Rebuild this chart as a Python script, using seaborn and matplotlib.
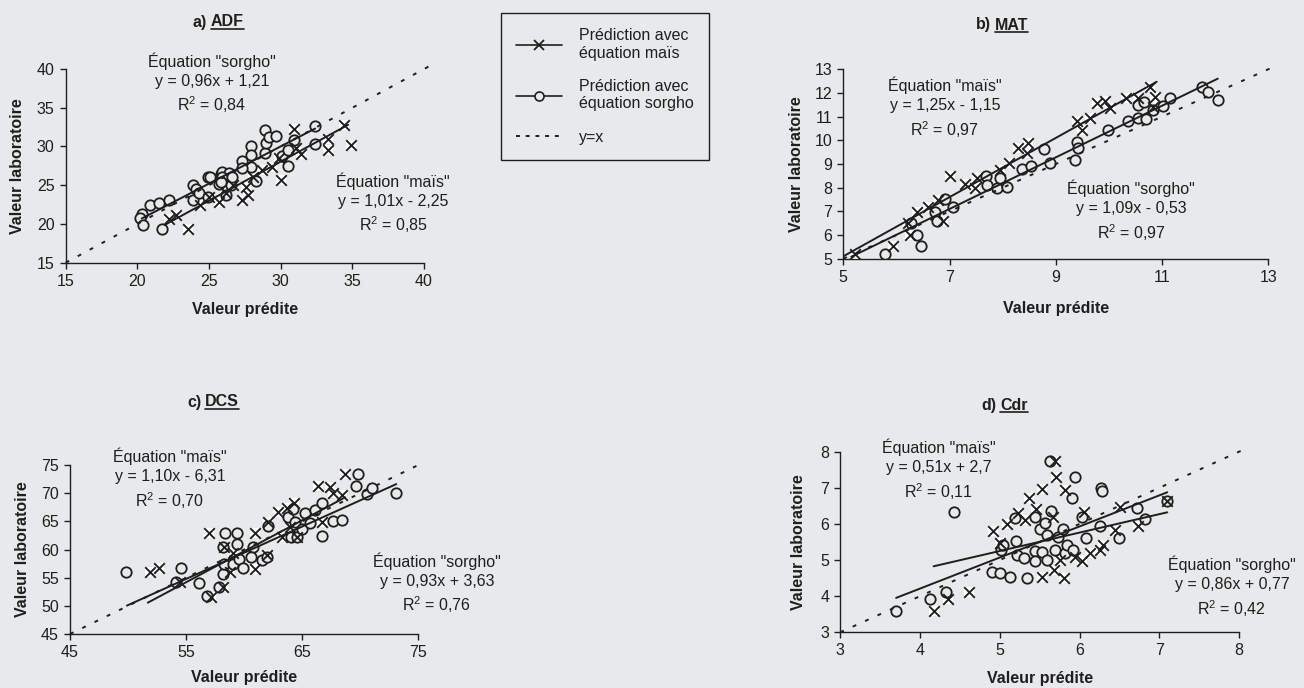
import matplotlib
matplotlib.use('Agg')
import numpy as np
import pandas as pd
import matplotlib.pyplot as plt
import seaborn as sns
from matplotlib.lines import Line2D

BG = '#e8e9ea'
INK = '#1e1e1e'

# a) ADF
adf_mais_x = [22.2, 22.7, 23.5, 24.4, 25.7, 26.2, 27.3, 27.7, 27.6, 28.1, 29.4, 30.0, 30.9,
              31.4, 31.1, 33.3, 33.3, 34.4, 34.9, 26.7, 25.0, 28.7, 29.9]
adf_mais_y = [20.7, 21.2, 19.4, 22.4, 22.8, 24.0, 23.1, 23.8, 24.8, 26.1, 27.4, 25.7, 32.2,
              29.0, 29.8, 31.0, 29.6, 32.8, 30.2, 25.0, 23.5, 27.0, 28.5]
adf_sorgho_x = [20.3, 20.2, 20.4, 20.9, 21.5, 22.2, 21.7, 23.9, 24.1, 23.9, 24.3, 24.9, 25.1,
                24.9, 25.7, 25.8, 25.9, 26.4, 26.2, 26.5, 25.9, 27.3, 27.9, 27.9, 27.9, 28.3,
                28.9, 28.9, 29.0, 29.2, 29.7, 30.1, 30.5, 30.5, 30.9, 32.4, 32.4, 27.3, 25.8, 26.6]
adf_sorgho_y = [21.3, 20.8, 19.8, 22.5, 22.7, 23.1, 19.3, 25.0, 24.5, 23.1, 24.0, 26.1, 26.0,
                23.5, 25.1, 26.5, 26.7, 26.6, 23.7, 25.0, 26.1, 28.1, 30.0, 28.9, 27.4, 25.6,
                32.1, 29.1, 30.4, 31.2, 31.3, 28.8, 29.6, 27.5, 30.8, 32.7, 30.3, 27.2, 25.4, 26.0]
adf_eq_mais = [1.01, -2.25]
adf_eq_sorgho = [0.96, 1.21]
adf_fit_mais = [21.9, 34.7]
adf_fit_sorgho = [20.3, 32.4]

# b) MAT
mat_mais_x = [5.22, 5.94, 6.22, 6.25, 6.38, 6.6, 6.79, 6.88, 7.0, 7.29, 7.51, 7.48, 7.95, 8.11,
              8.29, 8.48, 8.45, 9.39, 9.49, 9.64, 9.77, 9.92, 10.02, 10.33, 10.55, 10.77, 10.87, 10.83]
mat_mais_y = [5.2, 5.54, 6.52, 6.0, 6.97, 7.17, 7.48, 6.59, 8.5, 8.15, 8.39, 7.97, 8.75, 9.03,
              9.69, 9.9, 9.45, 10.82, 10.44, 10.93, 11.56, 11.68, 11.35, 11.77, 11.77, 12.24, 11.85, 11.42]
mat_sorgho_x = [5.78, 6.27, 6.38, 6.47, 6.73, 6.76, 6.91, 7.07, 7.68, 7.7, 7.89, 7.95, 8.09, 8.36,
                8.53, 8.78, 8.89, 9.37, 9.4, 9.41, 9.99, 10.36, 10.55, 10.55, 10.66, 10.69, 10.83,
                11.02, 11.15, 11.76, 11.86, 12.06]
mat_sorgho_y = [5.18, 6.52, 6.0, 5.54, 6.99, 6.61, 7.52, 7.17, 8.5, 8.11, 8.0, 8.42, 8.04, 8.77,
                8.93, 9.65, 9.03, 9.15, 9.93, 9.66, 10.44, 10.83, 10.93, 11.48, 11.6, 10.9, 11.28,
                11.45, 11.77, 12.27, 12.06, 11.7]
mat_eq_mais = [1.25, -1.15]
mat_eq_sorgho = [1.09, -0.53]
mat_fit_mais = [5.0, 10.9]
mat_fit_sorgho = [5.15, 12.05]

# c) DCS
dcs_mais_x = [51.89, 52.69, 54.47, 57.0, 57.12, 58.2, 58.26, 58.78, 59.07, 60.93, 60.93, 61.94,
              62.08, 62.94, 63.23, 63.66, 64.32, 64.52, 63.95, 66.39, 67.39, 67.68, 68.4, 68.69, 66.68]
dcs_mais_y = [55.95, 56.78, 54.29, 62.87, 51.63, 53.4, 60.5, 56.07, 59.32, 62.87, 56.54, 59.0,
              64.94, 66.72, 62.28, 67.31, 68.31, 62.28, 64.05, 71.27, 71.15, 70.09, 69.67, 73.4, 64.94]
dcs_sorgho_x = [49.79, 54.16, 54.56, 56.11, 56.83, 57.86, 58.15, 58.26, 58.2, 58.35, 59.36, 59.36,
                59.01, 59.58, 59.87, 60.73, 60.56, 61.51, 61.94, 62.08, 63.81, 64.24, 64.04, 64.52,
                64.38, 64.95, 65.24, 65.67, 66.1, 66.73, 66.68, 67.68, 68.4, 69.63, 69.78, 70.55,
                71.04, 73.08]
dcs_sorgho_y = [56.07, 54.29, 56.78, 54.0, 51.75, 53.4, 55.65, 57.37, 60.5, 62.99, 62.99, 60.98,
                57.37, 58.31, 56.66, 60.5, 58.73, 58.14, 58.73, 64.17, 65.71, 67.13, 62.28, 62.16,
                64.94, 63.64, 66.54, 64.64, 67.01, 68.2, 62.46, 65.12, 65.24, 71.27, 73.4, 69.85,
                70.86, 69.97]
dcs_eq_mais = [1.10, -6.31]
dcs_eq_sorgho = [0.93, 3.63]
dcs_fit_mais = [51.7, 68.7]
dcs_fit_sorgho = [49.9, 73.1]

# d) Cdr
cdr_mais_x = [4.17, 4.35, 4.61, 4.92, 5.0, 5.09, 5.23, 5.36, 5.32, 5.46, 5.53, 5.53, 5.69, 5.71,
              5.67, 5.68, 5.8, 5.76, 5.82, 5.94, 6.03, 6.06, 6.13, 6.26, 6.3, 6.45, 6.51, 6.73, 7.1]
cdr_mais_y = [3.59, 3.91, 4.11, 5.81, 5.46, 6.0, 6.31, 6.71, 6.11, 6.4, 6.96, 4.54, 7.74, 7.31,
              6.2, 4.73, 4.49, 5.0, 6.94, 5.09, 4.96, 6.34, 5.19, 5.28, 5.42, 5.83, 6.48, 5.94, 6.64]
cdr_sorgho_x = [3.70, 4.12, 4.32, 4.42, 4.9, 5.0, 5.13, 5.02, 5.04, 5.2, 5.19, 5.22, 5.3, 5.34,
                5.44, 5.44, 5.44, 5.5, 5.53, 5.57, 5.59, 5.59, 5.63, 5.64, 5.69, 5.73, 5.79, 5.82,
                5.84, 5.9, 5.92, 5.94, 6.03, 6.08, 6.27, 6.28, 6.26, 6.49, 6.72, 6.82, 7.1]
cdr_sorgho_y = [3.59, 3.91, 4.12, 6.34, 4.66, 4.63, 4.52, 5.28, 5.42, 5.54, 6.15, 5.14, 5.05, 4.51,
                6.2, 5.26, 4.96, 5.86, 5.23, 6.02, 5.0, 5.69, 7.74, 6.36, 5.28, 5.65, 5.85, 5.19,
                5.42, 6.73, 5.28, 7.29, 6.2, 5.6, 6.99, 6.92, 5.94, 5.6, 6.45, 6.13, 6.64]
cdr_eq_mais = [0.51, 2.7]
cdr_eq_sorgho = [0.86, 0.77]
cdr_fit_mais = [4.17, 7.1]
cdr_fit_sorgho = [3.7, 7.1]

sns.set_theme(style='white')
plt.rcParams['font.family'] = ['Liberation Sans', 'DejaVu Sans']
plt.rcParams['mathtext.fontset'] = 'custom'
plt.rcParams['mathtext.rm'] = 'Liberation Sans'
plt.rcParams['mathtext.it'] = 'Liberation Sans:italic'
plt.rcParams['mathtext.bf'] = 'Liberation Sans:bold'
plt.rcParams['mathtext.default'] = 'regular'

FS = 11.5

panels = [
    dict(pos=[0.0504, 0.6182, 0.2748, 0.2815], lim=(15, 40), xt=[15, 20, 25, 30, 35, 40],
         yt=[15, 20, 25, 30, 35, 40],
         mx=adf_mais_x, my=adf_mais_y, sx=adf_sorgho_x, sy=adf_sorgho_y,
         eqm=adf_eq_mais, eqs=adf_eq_sorgho, fm=adf_fit_mais, fs=adf_fit_sorgho,
         txt_m=(37.84, 22.6, 'Équation "maïs"\ny = 1,01x - 2,25\nR$^2$ = 0,85'),
         txt_s=(25.2, 38.1, 'Équation "sorgho"\ny = 0,96x + 1,21\nR$^2$ = 0,84'),
         title=('a)', 'ADF', 211, 22), ylab_x=-0.114, xlab_y=-0.203),
    dict(pos=[0.6467, 0.6240, 0.3259, 0.2753], lim=(5, 13), xt=[5, 7, 9, 11, 13],
         yt=list(range(5, 14)),
         mx=mat_mais_x, my=mat_mais_y, sx=mat_sorgho_x, sy=mat_sorgho_y,
         eqm=mat_eq_mais, eqs=mat_eq_sorgho, fm=mat_fit_mais, fs=mat_fit_sorgho,
         txt_m=(6.91, 11.36, 'Équation "maïs"\ny = 1,25x - 1,15\nR$^2$ = 0,97'),
         txt_s=(10.42, 7.01, 'Équation "sorgho"\ny = 1,09x - 0,53\nR$^2$ = 0,97'),
         title=('b)', 'MAT', 995, 25), ylab_x=-0.0925, xlab_y=-0.223),
    dict(pos=[0.0537, 0.0785, 0.2671, 0.2456], lim=(45, 75), xt=[45, 55, 65, 75],
         yt=[45, 50, 55, 60, 65, 70, 75],
         mx=dcs_mais_x, my=dcs_mais_y, sx=dcs_sorgho_x, sy=dcs_sorgho_y,
         eqm=dcs_eq_mais, eqs=dcs_eq_sorgho, fm=dcs_fit_mais, fs=dcs_fit_sorgho,
         txt_m=(53.6, 72.5, 'Équation "maïs"\ny = 1,10x - 6,31\nR$^2$ = 0,70'),
         txt_s=(76.6, 53.9, 'Équation "sorgho"\ny = 0,93x + 3,63\nR$^2$ = 0,76'),
         title=('c)', 'DCS', 205, 402), ylab_x=-0.115, xlab_y=-0.213),
    dict(pos=[0.6444, 0.0810, 0.3058, 0.2625], lim=(3, 8), xt=[3, 4, 5, 6, 7, 8],
         yt=[3, 4, 5, 6, 7, 8],
         mx=cdr_mais_x, my=cdr_mais_y, sx=cdr_sorgho_x, sy=cdr_sorgho_y,
         eqm=cdr_eq_mais, eqs=cdr_eq_sorgho, fm=cdr_fit_mais, fs=cdr_fit_sorgho,
         txt_m=(4.23, 7.49, 'Équation "maïs"\ny = 0,51x + 2,7\nR$^2$ = 0,11'),
         txt_s=(7.91, 4.25, 'Équation "sorgho"\ny = 0,86x + 0,77\nR$^2$ = 0,42'),
         title=('d)', 'Cdr', 1000, 405), ylab_x=-0.086, xlab_y=-0.214),
]

W, H = 1304, 688
fig = plt.figure(figsize=(W / 100, H / 100), dpi=100, facecolor=BG)

word_texts = []
for p in panels:
    ax = fig.add_axes(p['pos'])
    ax.set_facecolor(BG)
    lo, hi = p['lim']
    ext = hi + (hi - lo) * 0.015
    ax.plot([lo, ext], [lo, ext], color=INK, lw=1.4, ls=(0, (2, 5)), clip_on=False, zorder=6)

    # white patches behind the crosses, circles, crosses
    sns.scatterplot(x=p['mx'], y=p['my'], marker='s', s=60, color='white', linewidth=0,
                    ax=ax, zorder=3)
    sns.scatterplot(x=p['sx'], y=p['sy'], marker='o', s=56, color=BG, edgecolor=INK,
                    linewidth=1.3, ax=ax, zorder=4)
    sns.scatterplot(x=p['mx'], y=p['my'], marker='x', s=58, color=INK, linewidth=1.35,
                    ax=ax, zorder=5)

    for eq, rng in ((p['eqm'], p['fm']), (p['eqs'], p['fs'])):
        xs = np.array(rng)
        ax.plot(xs, eq[0] * xs + eq[1], color=INK, lw=1.4, zorder=6)

    for (tx, ty, s) in (p['txt_m'], p['txt_s']):
        ax.text(tx, ty, s, ha='center', va='center', fontsize=FS, color=INK,
                linespacing=1.35, clip_on=False)

    ax.set_xlim(lo, hi)
    ax.set_ylim(lo, hi)
    ax.set_xticks(p['xt'])
    ax.set_yticks(p['yt'])
    ax.tick_params(axis='both', direction='out', length=4, width=1, color=INK,
                   labelsize=FS, labelcolor=INK, pad=4)
    ax.tick_params(axis='both', which='both', bottom=True, left=True)
    for side in ('top', 'right'):
        ax.spines[side].set_visible(False)
    for side in ('left', 'bottom'):
        ax.spines[side].set_color(INK)
        ax.spines[side].set_linewidth(1)
    ax.set_xlabel('Valeur prédite', fontsize=FS, fontweight='bold', color=INK)
    ax.set_ylabel('Valeur laboratoire', fontsize=FS, fontweight='bold', color=INK)
    ax.xaxis.set_label_coords(0.5, p['xlab_y'])
    ax.xaxis.label.set_va('top')
    ax.yaxis.set_label_coords(p['ylab_x'], 0.5)

    pre, word, xpx, ypx = p['title']
    fig.text((xpx - 4) / W, 1 - ypx / H, pre, ha='right', va='center', fontsize=FS,
             fontweight='bold', color=INK)
    t = fig.text(xpx / W, 1 - ypx / H, word, ha='left', va='center', fontsize=FS,
                 fontweight='bold', color=INK)
    word_texts.append(t)

# underline the variable names in the titles
fig.canvas.draw()
renderer = fig.canvas.get_renderer()
for t in word_texts:
    bb = t.get_window_extent(renderer)
    yline = (bb.y0 + 1) / H
    fig.add_artist(Line2D([bb.x0 / W, bb.x1 / W], [yline, yline], color=INK, lw=1.2,
                          transform=fig.transFigure))

handles = [
    Line2D([], [], color=INK, lw=1.2, marker='x', markersize=7, markeredgewidth=1.3),
    Line2D([], [], color=INK, lw=1.2, marker='o', markersize=6.5, markerfacecolor=BG,
           markeredgecolor=INK, markeredgewidth=1.2),
    Line2D([], [], color=INK, lw=1.4, ls=(0, (2, 3))),
]
labels = ['Prédiction avec\néquation maïs', 'Prédiction avec\néquation sorgho', 'y=x']
leg = fig.legend(handles, labels, loc='upper left', bbox_to_anchor=(501 / W, 1 - 13 / H),
                 frameon=True, fancybox=False, edgecolor=INK, facecolor=BG, framealpha=1,
                 fontsize=FS, handlelength=2.9, handletextpad=1.05, borderpad=0.95,
                 labelspacing=1.15, borderaxespad=0)
leg.get_frame().set_linewidth(1)
for txt in leg.get_texts():
    txt.set_color(INK)

fig.savefig('out.png', dpi=100, facecolor=BG)
